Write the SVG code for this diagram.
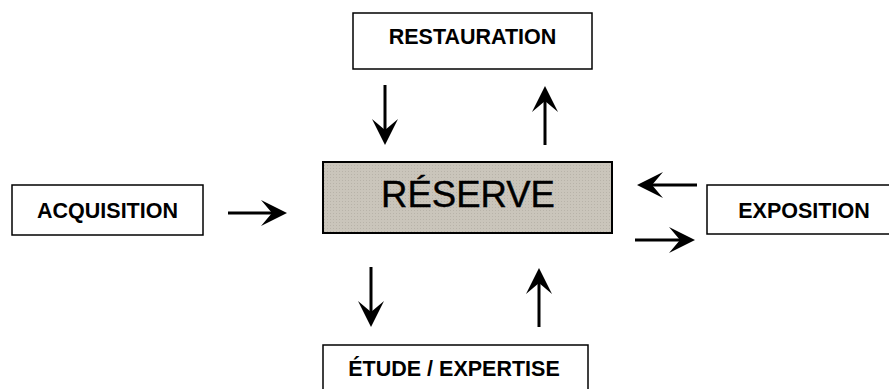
<svg xmlns="http://www.w3.org/2000/svg" width="889" height="389" viewBox="0 0 889 389">
<style>
.box{fill:#ffffff;stroke:#000;stroke-width:1.5}
.lbl{font-family:"Liberation Sans",Arial,sans-serif;font-weight:bold;font-size:21.5px;fill:#000;text-anchor:middle}
.big{font-family:"Liberation Sans",Arial,sans-serif;font-size:36.5px;fill:#000;text-anchor:middle;stroke:#000;stroke-width:0.4}
.arr{stroke:#000;stroke-width:3;fill:none;marker-end:url(#ah)}
</style>
<defs>
<pattern id="dots" width="3" height="3" patternUnits="userSpaceOnUse">
<rect width="3" height="3" fill="#cac5bb"/>
<rect x="0" y="0" width="1" height="1" fill="#b8b3a9"/>
</pattern>
<marker id="ah" markerUnits="userSpaceOnUse" orient="auto" refX="0" refY="0" markerWidth="30" markerHeight="30" overflow="visible">
<path d="M10,0 L-16,-13 L-5,0 L-16,13 Z" fill="#000"/>
</marker>
</defs>
<g id="reserve">
<rect x="323" y="162" width="289" height="71" fill="url(#dots)" stroke="#000" stroke-width="2"/>
<text class="big" x="468" y="207">RÉSERVE</text>
</g>
<g id="restauration">
<rect class="box" x="353" y="13" width="239" height="56"/>
<text class="lbl" x="472.5" y="44">RESTAURATION</text>
</g>
<g id="acquisition">
<rect class="box" x="12" y="185" width="191" height="50"/>
<text class="lbl" x="107.5" y="218">ACQUISITION</text>
</g>
<g id="exposition">
<rect class="box" x="707" y="185" width="200" height="49"/>
<text class="lbl" x="804" y="218">EXPOSITION</text>
</g>
<g id="etude">
<rect class="box" x="323" y="345" width="265" height="60"/>
<text class="lbl" x="454" y="376">ÉTUDE / EXPERTISE</text>
</g>
<g id="connectors">
<line class="arr" x1="385" y1="85" x2="385" y2="135"/>
<line class="arr" x1="545" y1="145" x2="545" y2="96"/>
<line class="arr" x1="228" y1="213" x2="277" y2="213"/>
<line class="arr" x1="697" y1="185" x2="647" y2="185"/>
<line class="arr" x1="635" y1="240" x2="685" y2="240"/>
<line class="arr" x1="371" y1="267" x2="371" y2="317"/>
<line class="arr" x1="539" y1="327" x2="539" y2="278"/>
</g>
</svg>
